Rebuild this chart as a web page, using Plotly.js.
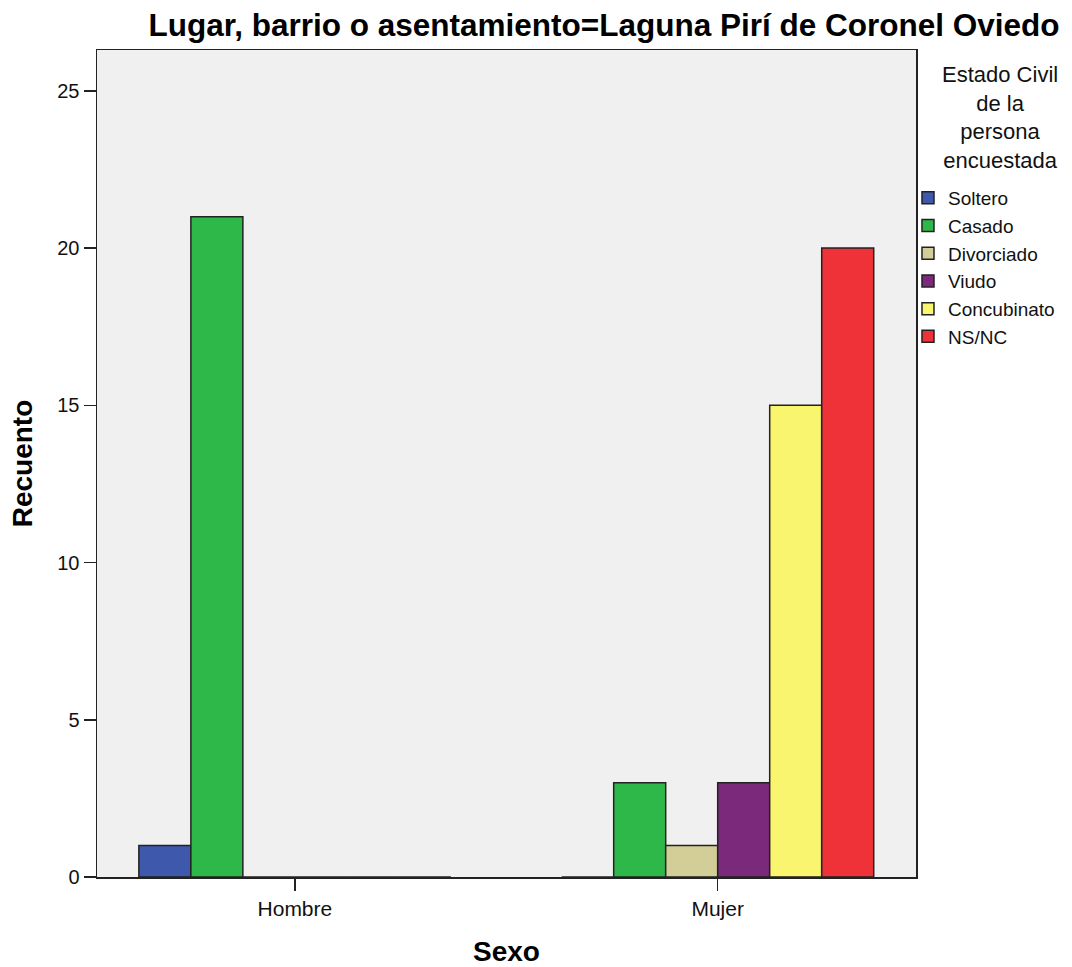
<!DOCTYPE html>
<html>
<head>
<meta charset="utf-8">
<script src="https://cdn.plot.ly/plotly-3.0.1.min.js"></script>
<style>html,body{margin:0;padding:0;background:#fff;}#chart{width:1072px;height:967px;}</style>
</head>
<body>
<div id="chart"></div>
<script>
var categories = ['Hombre', 'Mujer'];
var seriesNames = ['Soltero', 'Casado', 'Divorciado', 'Viudo', 'Concubinato', 'NS/NC'];
var soltero = [1, 0];
var casado = [21, 3];
var divorciado = [0, 1];
var viudo = [0, 3];
var concubinato = [0, 15];
var nsnc = [0, 20];
var yTicks = [0, 5, 10, 15, 20, 25];
var legendTitle = 'Estado Civil<br>de la<br>persona<br>encuestada';

var seriesValues = [soltero, casado, divorciado, viudo, concubinato, nsnc];
var colors = ['#3E58AC', '#2EB84A', '#D3CE98', '#7B2A7B', '#F9F56E', '#EE3238'];

var traces = seriesNames.map(function (name, i) {
  return {
    type: 'bar',
    name: name,
    x: categories,
    y: seriesValues[i],
    marker: { color: colors[i], line: { color: '#222222', width: 1.5 } },
    hoverinfo: 'x+y+name'
  };
});

var font = 'Liberation Sans, Arial, sans-serif';
var layout = {
  width: 1072,
  height: 967,
  paper_bgcolor: '#ffffff',
  plot_bgcolor: '#F0F0F0',
  margin: { l: 97, r: 156, t: 50, b: 90, autoexpand: false },
  barmode: 'group',
  bargap: 0.262,
  bargroupgap: 0,
  font: { family: font, color: '#111111' },
  title: {
    text: '<b>Lugar, barrio o asentamiento=Laguna Pirí de Coronel Oviedo</b>',
    font: { family: font, size: 31.5, color: '#000000' },
    xref: 'container', x: 0.5634, xanchor: 'center',
    yref: 'container', y: 0.974, yanchor: 'middle'
  },
  xaxis: {
    type: 'category',
    range: [-0.468, 1.469],
    showline: true, linecolor: '#222222', linewidth: 1.5, mirror: true,
    ticks: 'outside', ticklen: 12, tickcolor: '#222222', tickwidth: 1.5,
    tickfont: { family: font, size: 21, color: '#111111' },
    showgrid: false, zeroline: false,
    title: { text: '<b>Sexo</b>', font: { family: font, size: 28, color: '#000000' }, standoff: 27 }
  },
  yaxis: {
    range: [0, 26.3],
    tickvals: yTicks,
    ticktext: yTicks.map(String),
    showline: true, linecolor: '#222222', linewidth: 1.5, mirror: true,
    ticks: 'outside', ticklen: 12, tickcolor: '#222222', tickwidth: 1.5,
    tickfont: { family: font, size: 20, color: '#111111' },
    showgrid: false, zeroline: false,
    title: { text: '<b>Recuento</b>', font: { family: font, size: 28, color: '#000000' }, standoff: 16 }
  },
  legend: {
    xref: 'container', x: 0.847, xanchor: 'left',
    yref: 'container', y: 0.8149, yanchor: 'top',
    bgcolor: 'rgba(0,0,0,0)',
    font: { family: font, size: 19, color: '#111111' },
    traceorder: 'normal',
    itemwidth: 30
  },
  annotations: [{
    text: legendTitle,
    xref: 'paper', x: 1.1026, xanchor: 'center',
    yref: 'paper', y: 0.918, yanchor: 'middle',
    align: 'center', showarrow: false,
    font: { family: font, size: 22, color: '#111111' }
  }],
  showlegend: true
};

Plotly.newPlot('chart', traces, layout, { displayModeBar: false, staticPlot: true });
</script>
</body>
</html>
